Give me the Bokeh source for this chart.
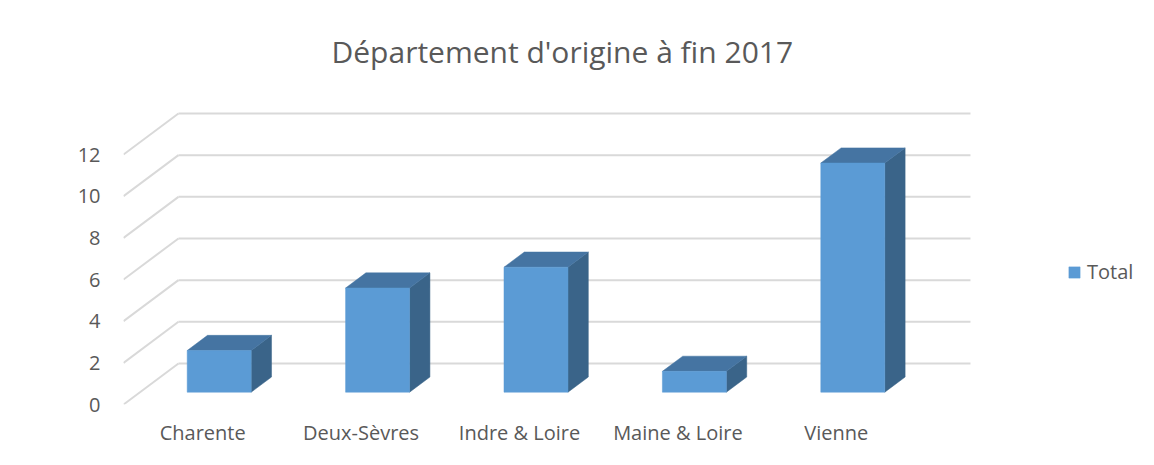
from bokeh.plotting import figure
from bokeh.models import Range1d, FixedTicker, Legend, LegendItem, Title
from bokeh.embed import file_html
from bokeh.resources import INLINE

# ---------------- data ----------------
categories = ["Charente", "Deux-Sèvres", "Indre & Loire", "Maine & Loire", "Vienne"]
totals = [2, 5, 6, 1, 11]
y_ticks = [0, 2, 4, 6, 8, 10, 12]
series_name = "Total"
title_text = "Département d'origine à fin 2017"

# ---------------- style / projection ----------------
FONT = "Open Sans"
TEXT_COLOR = "#595959"
GRID_COLOR = "#d9d9d9"
FRONT_COLOR = "#5b9bd5"
TOP_COLOR = "#4574a2"
SIDE_COLOR = "#3a6489"

DEPTH_X = 0.347   # shift in category units for full depth
DEPTH_Y = 1.97    # shift in value units for full depth
BAR_W = 0.404
BAR_F0, BAR_F1 = 0.30, 0.67

PX_PER_CAT = 158.4
PX_PER_UNIT = 20.83

W, H = 1146, 457
LEFT, BOTTOM, TOP, RIGHT = 123, 53, 96, 0


def proj(x, v, f):
    return x + f * DEPTH_X, v + f * DEPTH_Y


n = len(categories)
x_end = (W - LEFT - RIGHT) / PX_PER_CAT
y_end = (H - TOP - BOTTOM) / PX_PER_UNIT

p = figure(width=W, height=H, output_backend="svg", toolbar_location=None,
           x_range=Range1d(0, x_end), y_range=Range1d(0, y_end),
           min_border_left=LEFT, min_border_right=RIGHT,
           min_border_top=TOP, min_border_bottom=BOTTOM,
           background_fill_color="white", border_fill_color="white")
p.outline_line_color = None
p.xgrid.visible = False
p.ygrid.visible = False

# title
p.title = Title(text=title_text, text_font=FONT, text_font_size="30px",
                text_font_style="normal", text_color=TEXT_COLOR,
                align="left", offset=208, standoff=50)

# gridlines (side wall + back wall)
gx0, gy0, gx1, gy1 = [], [], [], []
for v in y_ticks:
    ax, ay = proj(0, v, 0)
    bx, by = proj(0, v, 1)
    cx, cy = proj(n, v, 1)
    gx0 += [ax, bx]; gy0 += [ay, by]
    gx1 += [bx, cx]; gy1 += [by, cy]
p.segment(gx0, gy0, gx1, gy1, line_color=GRID_COLOR, line_width=2)

# bars
fx, fy, tx, ty, sx, sy = [], [], [], [], [], []
for i, v in enumerate(totals):
    xl = i + 0.5 - BAR_W / 2
    xr = i + 0.5 + BAR_W / 2
    pts = [proj(xl, 0, BAR_F0), proj(xr, 0, BAR_F0), proj(xr, v, BAR_F0), proj(xl, v, BAR_F0)]
    fx.append([q[0] for q in pts]); fy.append([q[1] for q in pts])
    pts = [proj(xl, v, BAR_F0), proj(xr, v, BAR_F0), proj(xr, v, BAR_F1), proj(xl, v, BAR_F1)]
    tx.append([q[0] for q in pts]); ty.append([q[1] for q in pts])
    pts = [proj(xr, 0, BAR_F0), proj(xr, 0, BAR_F1), proj(xr, v, BAR_F1), proj(xr, v, BAR_F0)]
    sx.append([q[0] for q in pts]); sy.append([q[1] for q in pts])

r_side = p.patches(sx, sy, fill_color=SIDE_COLOR, line_color=SIDE_COLOR, line_width=0.5)
r_top = p.patches(tx, ty, fill_color=TOP_COLOR, line_color=TOP_COLOR, line_width=0.5)
r_front = p.patches(fx, fy, fill_color=FRONT_COLOR, line_color=FRONT_COLOR, line_width=0.5)

# axes
yax = p.yaxis[0]
yax.ticker = FixedTicker(ticks=y_ticks)
yax.axis_line_color = None
yax.major_tick_line_color = None
yax.minor_tick_line_color = None
yax.major_label_standoff = 17
yax.major_label_text_font = FONT
yax.major_label_text_font_size = "20px"
yax.major_label_text_color = TEXT_COLOR

xax = p.xaxis[0]
cat_pos = [i + 0.5 for i in range(n)]
xax.ticker = FixedTicker(ticks=cat_pos)
xax.major_label_overrides = {c: lab for c, lab in zip(cat_pos, categories)}
xax.axis_line_color = None
xax.major_tick_line_color = None
xax.minor_tick_line_color = None
xax.major_label_standoff = 8
xax.major_label_text_font = FONT
xax.major_label_text_font_size = "20px"
xax.major_label_text_color = TEXT_COLOR

# legend
legend = Legend(items=[LegendItem(label=series_name, renderers=[r_front])],
                location=(944, 119), glyph_width=14, glyph_height=14,
                label_height=14, label_standoff=6, padding=0, margin=0,
                border_line_color=None, background_fill_alpha=0,
                label_text_font=FONT, label_text_font_size="20px",
                label_text_color=TEXT_COLOR)
p.add_layout(legend)

open("out.html", "w").write(file_html(p, INLINE))
